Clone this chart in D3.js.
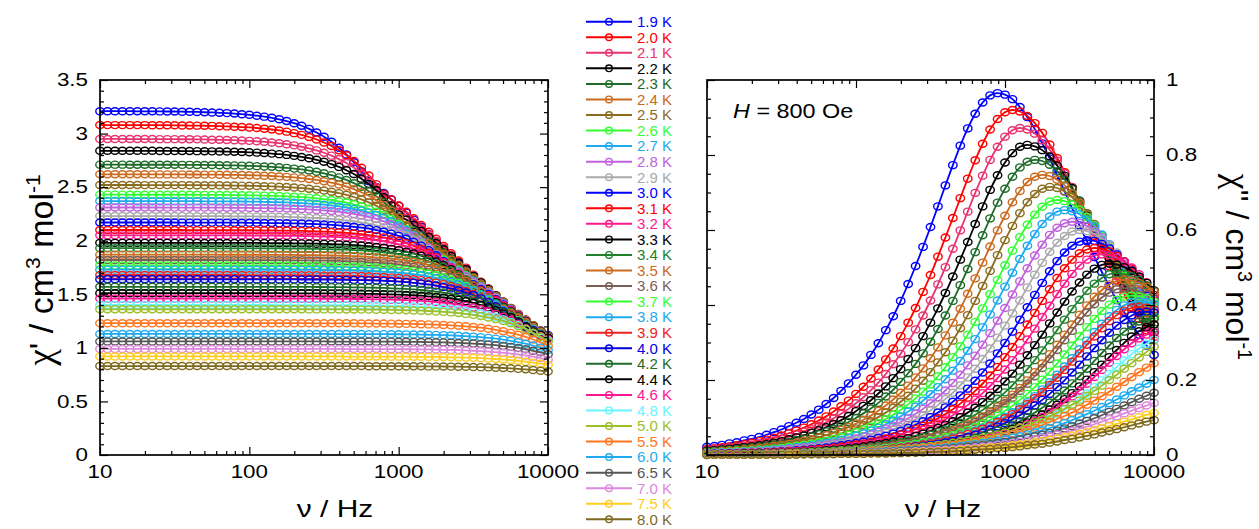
<!DOCTYPE html>
<html><head><meta charset="utf-8">
<script src="https://cdn.jsdelivr.net/npm/d3@7"></script>
<style>body{margin:0;background:#fff;}svg{display:block;}</style>
</head><body>
<svg id="chart" width="1259" height="529"></svg>
<script>
// ---------------- DATA ----------------
const temps = ["1.9 K","2.0 K","2.1 K","2.2 K","2.3 K","2.4 K","2.5 K","2.6 K","2.7 K","2.8 K","2.9 K","3.0 K","3.1 K","3.2 K","3.3 K","3.4 K","3.5 K","3.6 K","3.7 K","3.8 K","3.9 K","4.0 K","4.2 K","4.4 K","4.6 K","4.8 K","5.0 K","5.5 K","6.0 K","6.5 K","7.0 K","7.5 K","8.0 K"];
const colors = ["#0000ff","#ff0000","#e8336e","#000000","#1e6b2a","#cc6a1e","#8b6d1f","#33ff33","#1eaaee","#c062dc","#aaaaaa","#0000ff","#ff0000","#ff1a8c","#000000","#208030","#cc6a1e","#7a5f55","#33ff33","#1eaaee","#ee2020","#0000dd","#1e6b2a","#000000","#ff1493","#66f6ff","#9cbf2a","#ff7722","#1eaaee","#555555","#dd88dd","#ffcc22","#7d6a1e"];
const freq = [10,11.22,12.59,14.13,15.85,17.78,19.95,22.39,25.12,28.18,31.62,35.48,39.81,44.67,50.12,56.23,63.1,70.79,79.43,89.13,100,112.2,125.9,141.3,158.5,177.8,199.5,223.9,251.2,281.8,316.2,354.8,398.1,446.7,501.2,562.3,631,707.9,794.3,891.3,1000,1122,1259,1413,1585,1778,1995,2239,2512,2818,3162,3548,3981,4467,5012,5623,6310,7079,7943,8913,10000];
const freqMajor = [10,100,1000,10000];
const freqMinor = [20,30,40,50,60,70,80,90,200,300,400,500,600,700,800,900,2000,3000,4000,5000,6000,7000,8000,9000];
const freqLabels = ["10","100","1000","10000"];
const reMajor = [0,0.5,1,1.5,2,2.5,3,3.5];
const reMinor = [0.1,0.2,0.3,0.4,0.6,0.7,0.8,0.9,1.1,1.2,1.3,1.4,1.6,1.7,1.8,1.9,2.1,2.2,2.3,2.4,2.6,2.7,2.8,2.9,3.1,3.2,3.3,3.4];
const reLabels = ["0","0.5","1","1.5","2","2.5","3","3.5"];
const imMajor = [0,0.2,0.4,0.6,0.8,1];
const imMinor = [0.05,0.1,0.15,0.25,0.3,0.35,0.45,0.5,0.55,0.65,0.7,0.75,0.85,0.9,0.95];
const imLabels = ["0","0.2","0.4","0.6","0.8","1"];

// chi' (in-phase), one array per temperature
const re_19 = [3.209,3.209,3.209,3.209,3.209,3.208,3.208,3.208,3.207,3.206,3.206,3.204,3.203,3.202,3.199,3.197,3.194,3.191,3.187,3.181,3.175,3.167,3.158,3.147,3.133,3.117,3.097,3.073,3.044,3.010,2.971,2.923,2.868,2.805,2.732,2.649,2.556,2.502,2.446,2.387,2.326,2.262,2.197,2.130,2.062,1.994,1.925,1.857,1.790,1.724,1.659,1.595,1.533,1.472,1.414,1.359,1.306,1.255,1.207,1.162,1.120];
const re_20 = [3.080,3.079,3.079,3.079,3.079,3.079,3.079,3.078,3.078,3.078,3.077,3.076,3.075,3.074,3.073,3.072,3.069,3.067,3.064,3.061,3.057,3.052,3.045,3.038,3.029,3.018,3.004,2.988,2.968,2.945,2.917,2.884,2.844,2.798,2.744,2.681,2.609,2.528,2.437,2.384,2.328,2.270,2.210,2.147,2.083,2.018,1.951,1.884,1.816,1.749,1.683,1.618,1.554,1.491,1.430,1.371,1.314,1.259,1.207,1.157,1.110];
const re_21 = [2.950,2.950,2.950,2.950,2.949,2.949,2.949,2.949,2.948,2.948,2.948,2.947,2.947,2.946,2.945,2.943,2.942,2.940,2.938,2.935,2.932,2.928,2.923,2.917,2.910,2.901,2.890,2.877,2.862,2.843,2.821,2.794,2.762,2.725,2.680,2.628,2.568,2.500,2.422,2.334,2.284,2.231,2.175,2.118,2.058,1.997,1.934,1.870,1.805,1.740,1.677,1.614,1.551,1.490,1.430,1.371,1.315,1.260,1.208,1.158,1.110];
const re_22 = [2.839,2.839,2.839,2.839,2.839,2.839,2.839,2.839,2.838,2.838,2.838,2.837,2.837,2.836,2.835,2.834,2.833,2.832,2.830,2.828,2.825,2.822,2.818,2.813,2.808,2.801,2.792,2.782,2.770,2.755,2.737,2.715,2.689,2.658,2.622,2.579,2.529,2.471,2.405,2.330,2.246,2.197,2.146,2.092,2.036,1.979,1.920,1.859,1.797,1.735,1.672,1.611,1.550,1.490,1.431,1.373,1.316,1.262,1.209,1.158,1.110];
const re_23 = [2.710,2.710,2.710,2.710,2.709,2.709,2.709,2.709,2.709,2.709,2.709,2.708,2.708,2.707,2.707,2.706,2.705,2.704,2.703,2.701,2.699,2.696,2.693,2.690,2.685,2.680,2.673,2.665,2.655,2.643,2.629,2.612,2.591,2.567,2.537,2.503,2.462,2.415,2.359,2.296,2.225,2.145,2.098,2.050,1.998,1.946,1.891,1.834,1.777,1.718,1.659,1.599,1.541,1.483,1.426,1.369,1.314,1.260,1.208,1.158,1.110];
const re_24 = [2.620,2.620,2.620,2.620,2.620,2.620,2.620,2.619,2.619,2.619,2.619,2.619,2.618,2.618,2.617,2.617,2.616,2.615,2.614,2.613,2.611,2.609,2.607,2.604,2.600,2.596,2.591,2.584,2.576,2.567,2.555,2.542,2.525,2.505,2.481,2.452,2.419,2.379,2.333,2.279,2.218,2.148,2.070,2.025,1.977,1.928,1.876,1.823,1.768,1.712,1.655,1.597,1.539,1.483,1.426,1.370,1.315,1.262,1.210,1.159,1.110];
const re_25 = [2.520,2.520,2.520,2.520,2.520,2.520,2.519,2.519,2.519,2.519,2.519,2.519,2.518,2.518,2.518,2.517,2.517,2.516,2.515,2.514,2.513,2.511,2.509,2.507,2.504,2.501,2.496,2.491,2.485,2.477,2.468,2.457,2.444,2.428,2.408,2.385,2.358,2.326,2.287,2.243,2.191,2.132,2.064,1.989,1.945,1.900,1.852,1.802,1.751,1.698,1.644,1.589,1.533,1.477,1.422,1.368,1.314,1.261,1.209,1.159,1.110];
const re_26 = [2.430,2.430,2.430,2.430,2.429,2.429,2.429,2.429,2.429,2.429,2.429,2.429,2.429,2.429,2.428,2.428,2.427,2.427,2.426,2.425,2.424,2.423,2.421,2.419,2.417,2.414,2.411,2.407,2.402,2.396,2.388,2.380,2.368,2.356,2.340,2.321,2.298,2.271,2.240,2.202,2.159,2.108,2.050,1.985,1.911,1.869,1.824,1.777,1.729,1.678,1.627,1.574,1.520,1.466,1.411,1.357,1.304,1.252,1.200,1.149,1.100];
const re_27 = [2.370,2.370,2.370,2.370,2.370,2.369,2.369,2.369,2.369,2.369,2.369,2.369,2.369,2.369,2.368,2.368,2.368,2.367,2.367,2.366,2.365,2.364,2.363,2.361,2.359,2.357,2.354,2.351,2.347,2.342,2.336,2.329,2.320,2.309,2.296,2.281,2.262,2.239,2.213,2.181,2.144,2.101,2.051,1.994,1.928,1.855,1.813,1.769,1.722,1.674,1.624,1.573,1.521,1.468,1.414,1.359,1.306,1.254,1.201,1.150,1.100];
const re_28 = [2.310,2.310,2.310,2.310,2.310,2.310,2.310,2.310,2.310,2.309,2.309,2.309,2.309,2.309,2.309,2.309,2.308,2.308,2.307,2.307,2.306,2.305,2.304,2.303,2.302,2.300,2.298,2.295,2.292,2.287,2.283,2.277,2.269,2.260,2.250,2.237,2.221,2.203,2.181,2.154,2.123,2.086,2.043,1.994,1.937,1.872,1.800,1.758,1.714,1.668,1.620,1.571,1.520,1.468,1.415,1.361,1.308,1.255,1.203,1.151,1.100];
const re_29 = [2.23,2.23,2.23,2.23,2.23,2.23,2.23,2.23,2.23,2.23,2.23,2.23,2.229,2.229,2.229,2.229,2.229,2.229,2.228,2.228,2.227,2.226,2.226,2.225,2.224,2.222,2.220,2.218,2.215,2.212,2.208,2.203,2.198,2.190,2.182,2.171,2.159,2.144,2.126,2.104,2.078,2.048,2.012,1.970,1.922,1.866,1.803,1.733,1.692,1.649,1.604,1.558,1.509,1.460,1.409,1.358,1.305,1.253,1.202,1.151,1.100];
const re_30 = [2.17,2.17,2.17,2.17,2.17,2.17,2.17,2.17,2.17,2.17,2.17,2.169,2.169,2.169,2.169,2.169,2.169,2.169,2.168,2.168,2.167,2.167,2.166,2.165,2.164,2.163,2.162,2.160,2.158,2.155,2.152,2.148,2.143,2.137,2.130,2.122,2.112,2.099,2.084,2.066,2.045,2.019,1.989,1.954,1.912,1.864,1.809,1.747,1.677,1.636,1.594,1.549,1.503,1.455,1.406,1.356,1.305,1.253,1.201,1.150,1.100];
const re_31 = [2.1,2.1,2.1,2.1,2.1,2.1,2.1,2.1,2.1,2.1,2.1,2.1,2.099,2.099,2.099,2.099,2.099,2.099,2.098,2.098,2.098,2.097,2.097,2.096,2.095,2.095,2.093,2.092,2.090,2.088,2.085,2.082,2.078,2.074,2.068,2.061,2.053,2.043,2.031,2.016,1.998,1.977,1.952,1.923,1.888,1.847,1.800,1.746,1.685,1.616,1.577,1.535,1.491,1.446,1.399,1.351,1.302,1.252,1.201,1.150,1.100];
const re_32 = [2.05,2.05,2.05,2.05,2.05,2.05,2.05,2.05,2.05,2.05,2.05,2.05,2.05,2.049,2.049,2.049,2.049,2.049,2.049,2.049,2.048,2.048,2.048,2.047,2.046,2.046,2.045,2.044,2.042,2.040,2.038,2.036,2.033,2.029,2.024,2.018,2.011,2.003,1.993,1.981,1.966,1.949,1.927,1.902,1.873,1.838,1.797,1.750,1.696,1.635,1.566,1.527,1.485,1.441,1.396,1.349,1.301,1.252,1.202,1.151,1.100];
const re_33 = [1.98,1.98,1.98,1.98,1.98,1.98,1.98,1.98,1.98,1.98,1.98,1.98,1.98,1.98,1.979,1.979,1.979,1.979,1.979,1.979,1.979,1.979,1.978,1.978,1.977,1.977,1.976,1.975,1.974,1.972,1.971,1.968,1.966,1.963,1.959,1.955,1.949,1.942,1.934,1.924,1.912,1.898,1.881,1.860,1.835,1.807,1.772,1.733,1.687,1.634,1.574,1.507,1.468,1.427,1.384,1.340,1.294,1.247,1.199,1.150,1.100];
const re_34 = [1.93,1.93,1.93,1.93,1.93,1.93,1.93,1.93,1.93,1.93,1.93,1.93,1.93,1.93,1.93,1.929,1.929,1.929,1.929,1.929,1.929,1.929,1.928,1.928,1.928,1.927,1.926,1.926,1.925,1.924,1.922,1.920,1.918,1.916,1.913,1.909,1.904,1.899,1.892,1.884,1.874,1.862,1.848,1.831,1.810,1.785,1.757,1.722,1.683,1.637,1.584,1.524,1.457,1.418,1.377,1.335,1.290,1.244,1.197,1.149,1.100];
const re_35 = [1.87,1.87,1.87,1.87,1.87,1.87,1.87,1.87,1.87,1.87,1.87,1.87,1.87,1.87,1.87,1.87,1.869,1.869,1.869,1.869,1.869,1.869,1.869,1.868,1.868,1.867,1.867,1.866,1.866,1.865,1.864,1.862,1.860,1.859,1.856,1.853,1.849,1.845,1.839,1.833,1.825,1.815,1.803,1.789,1.772,1.752,1.727,1.699,1.665,1.626,1.581,1.529,1.470,1.403,1.365,1.325,1.283,1.239,1.194,1.148,1.100];
const re_36 = [1.82,1.82,1.82,1.82,1.82,1.82,1.82,1.82,1.82,1.82,1.82,1.82,1.82,1.82,1.82,1.82,1.819,1.819,1.819,1.819,1.819,1.819,1.819,1.819,1.818,1.818,1.817,1.817,1.816,1.815,1.814,1.813,1.811,1.809,1.807,1.804,1.800,1.796,1.791,1.785,1.777,1.768,1.757,1.743,1.727,1.708,1.685,1.658,1.626,1.589,1.546,1.496,1.440,1.378,1.341,1.303,1.263,1.222,1.179,1.135,1.090];
const re_37 = [1.77,1.77,1.77,1.77,1.77,1.77,1.77,1.77,1.77,1.77,1.77,1.77,1.77,1.77,1.77,1.77,1.77,1.769,1.769,1.769,1.769,1.769,1.769,1.769,1.768,1.768,1.768,1.767,1.767,1.766,1.765,1.764,1.763,1.761,1.759,1.757,1.754,1.750,1.746,1.741,1.735,1.727,1.718,1.707,1.694,1.678,1.659,1.636,1.609,1.577,1.540,1.498,1.449,1.393,1.331,1.295,1.257,1.217,1.176,1.134,1.090];
const re_38 = [1.73,1.73,1.73,1.73,1.73,1.73,1.73,1.73,1.73,1.73,1.73,1.73,1.73,1.73,1.73,1.73,1.73,1.73,1.729,1.729,1.729,1.729,1.729,1.729,1.729,1.728,1.728,1.728,1.727,1.727,1.726,1.725,1.724,1.723,1.721,1.719,1.717,1.714,1.710,1.706,1.701,1.695,1.687,1.678,1.667,1.653,1.637,1.618,1.595,1.568,1.536,1.499,1.456,1.407,1.351,1.288,1.252,1.214,1.174,1.133,1.090];
const re_39 = [1.68,1.68,1.68,1.68,1.68,1.68,1.68,1.68,1.68,1.68,1.68,1.68,1.68,1.68,1.68,1.68,1.68,1.68,1.68,1.68,1.679,1.679,1.679,1.679,1.679,1.679,1.678,1.678,1.678,1.677,1.676,1.676,1.675,1.673,1.672,1.670,1.668,1.665,1.662,1.658,1.653,1.648,1.641,1.632,1.622,1.609,1.595,1.577,1.556,1.531,1.502,1.467,1.428,1.382,1.331,1.273,1.239,1.204,1.168,1.130,1.090];
const re_40 = [1.64,1.64,1.64,1.64,1.64,1.64,1.64,1.64,1.64,1.64,1.64,1.64,1.64,1.64,1.64,1.64,1.64,1.64,1.64,1.639,1.639,1.639,1.639,1.639,1.639,1.639,1.639,1.638,1.638,1.638,1.637,1.636,1.635,1.634,1.633,1.632,1.630,1.628,1.625,1.622,1.618,1.613,1.607,1.600,1.592,1.582,1.569,1.555,1.537,1.516,1.491,1.462,1.427,1.388,1.342,1.291,1.233,1.200,1.165,1.128,1.090];
const re_42 = [1.57,1.57,1.57,1.57,1.57,1.57,1.57,1.57,1.57,1.57,1.57,1.57,1.57,1.57,1.57,1.57,1.57,1.57,1.57,1.57,1.57,1.57,1.57,1.57,1.569,1.569,1.569,1.569,1.569,1.568,1.568,1.567,1.567,1.566,1.565,1.564,1.562,1.561,1.559,1.556,1.553,1.550,1.545,1.540,1.533,1.525,1.516,1.504,1.490,1.473,1.454,1.430,1.403,1.371,1.334,1.291,1.243,1.189,1.157,1.124,1.090];
const re_44 = [1.51,1.51,1.51,1.51,1.51,1.51,1.51,1.51,1.51,1.51,1.51,1.51,1.51,1.51,1.51,1.51,1.51,1.51,1.51,1.51,1.51,1.51,1.51,1.51,1.51,1.509,1.509,1.509,1.509,1.509,1.508,1.508,1.507,1.507,1.506,1.505,1.504,1.503,1.501,1.499,1.497,1.494,1.491,1.487,1.481,1.475,1.468,1.459,1.448,1.435,1.419,1.400,1.378,1.352,1.322,1.287,1.247,1.202,1.151,1.121,1.090];
const re_46 = [1.46,1.46,1.46,1.46,1.46,1.46,1.46,1.46,1.46,1.46,1.46,1.46,1.46,1.46,1.46,1.46,1.46,1.46,1.46,1.46,1.46,1.46,1.46,1.459,1.459,1.459,1.459,1.459,1.459,1.459,1.458,1.458,1.457,1.457,1.456,1.456,1.454,1.453,1.452,1.450,1.448,1.445,1.442,1.439,1.434,1.428,1.421,1.413,1.403,1.392,1.377,1.361,1.341,1.317,1.290,1.258,1.222,1.181,1.135,1.108,1.080];
const re_48 = [1.4,1.4,1.4,1.4,1.4,1.4,1.4,1.4,1.4,1.4,1.4,1.4,1.4,1.4,1.4,1.4,1.4,1.4,1.4,1.4,1.4,1.4,1.4,1.4,1.399,1.399,1.399,1.399,1.399,1.399,1.399,1.398,1.398,1.398,1.397,1.397,1.396,1.395,1.394,1.392,1.391,1.389,1.386,1.384,1.380,1.375,1.370,1.364,1.356,1.347,1.336,1.323,1.307,1.288,1.266,1.241,1.211,1.177,1.138,1.095,1.070];
const re_50 = [1.36,1.36,1.36,1.36,1.36,1.36,1.36,1.36,1.36,1.36,1.36,1.36,1.36,1.36,1.36,1.36,1.36,1.36,1.36,1.36,1.36,1.36,1.36,1.36,1.36,1.36,1.36,1.36,1.359,1.359,1.359,1.359,1.359,1.358,1.358,1.357,1.357,1.356,1.355,1.354,1.353,1.351,1.349,1.347,1.344,1.340,1.336,1.331,1.325,1.317,1.308,1.297,1.284,1.269,1.250,1.229,1.203,1.174,1.141,1.103,1.060];
const re_55 = [1.23,1.23,1.23,1.23,1.23,1.23,1.23,1.23,1.23,1.23,1.23,1.23,1.23,1.23,1.23,1.23,1.23,1.23,1.23,1.23,1.23,1.23,1.23,1.23,1.23,1.23,1.23,1.23,1.23,1.229,1.229,1.229,1.229,1.229,1.229,1.228,1.228,1.227,1.227,1.226,1.225,1.224,1.223,1.221,1.219,1.217,1.214,1.210,1.206,1.201,1.195,1.188,1.179,1.168,1.155,1.140,1.123,1.102,1.078,1.051,1.020];
const re_60 = [1.13,1.13,1.13,1.13,1.13,1.13,1.13,1.13,1.13,1.13,1.13,1.13,1.13,1.13,1.13,1.13,1.13,1.13,1.13,1.13,1.13,1.13,1.13,1.13,1.13,1.13,1.13,1.13,1.13,1.13,1.13,1.129,1.129,1.129,1.129,1.129,1.128,1.128,1.128,1.127,1.127,1.126,1.125,1.124,1.122,1.121,1.119,1.116,1.113,1.109,1.105,1.100,1.093,1.086,1.077,1.066,1.053,1.039,1.022,1.002,0.980];
const re_65 = [1.06,1.06,1.06,1.06,1.06,1.06,1.06,1.06,1.06,1.06,1.06,1.06,1.06,1.06,1.06,1.06,1.06,1.06,1.06,1.06,1.06,1.06,1.06,1.06,1.06,1.06,1.06,1.06,1.06,1.06,1.06,1.059,1.059,1.059,1.059,1.059,1.059,1.058,1.058,1.058,1.057,1.057,1.056,1.055,1.054,1.052,1.051,1.049,1.046,1.043,1.040,1.036,1.031,1.025,1.017,1.009,0.999,0.987,0.973,0.958,0.940];
const re_70 = [0.99,0.99,0.99,0.99,0.99,0.99,0.99,0.99,0.99,0.99,0.99,0.99,0.99,0.99,0.99,0.99,0.99,0.99,0.99,0.99,0.99,0.99,0.99,0.99,0.99,0.99,0.99,0.99,0.99,0.99,0.99,0.99,0.99,0.989,0.989,0.989,0.989,0.989,0.988,0.988,0.988,0.987,0.987,0.986,0.985,0.984,0.982,0.981,0.979,0.976,0.973,0.970,0.966,0.960,0.954,0.947,0.939,0.929,0.918,0.905,0.890];
const re_75 = [0.92,0.92,0.92,0.92,0.92,0.92,0.92,0.92,0.92,0.92,0.92,0.92,0.92,0.92,0.92,0.92,0.92,0.92,0.92,0.92,0.92,0.92,0.92,0.92,0.92,0.92,0.92,0.92,0.92,0.92,0.92,0.92,0.92,0.919,0.919,0.919,0.919,0.919,0.919,0.918,0.918,0.918,0.917,0.916,0.916,0.915,0.914,0.912,0.911,0.909,0.907,0.904,0.900,0.896,0.891,0.886,0.879,0.871,0.862,0.852,0.840];
const re_80 = [0.83,0.83,0.83,0.83,0.83,0.83,0.83,0.83,0.83,0.83,0.83,0.83,0.83,0.83,0.83,0.83,0.83,0.83,0.83,0.83,0.83,0.83,0.83,0.83,0.83,0.83,0.83,0.83,0.83,0.83,0.83,0.83,0.83,0.83,0.83,0.83,0.829,0.829,0.829,0.829,0.829,0.829,0.828,0.828,0.827,0.827,0.826,0.825,0.824,0.823,0.822,0.820,0.818,0.815,0.812,0.809,0.804,0.800,0.794,0.787,0.780];

// chi'' (out-of-phase), one array per temperature
const im_19 = [0.022,0.024,0.027,0.031,0.034,0.039,0.043,0.048,0.054,0.061,0.068,0.077,0.086,0.096,0.108,0.121,0.136,0.152,0.171,0.191,0.214,0.239,0.267,0.298,0.333,0.370,0.411,0.456,0.504,0.555,0.608,0.663,0.719,0.773,0.825,0.871,0.910,0.940,0.959,0.965,0.961,0.949,0.928,0.901,0.869,0.831,0.791,0.746,0.703,0.658,0.612,0.570,0.528,0.488,0.450,0.413,0.381,0.348,0.321,0.292,0.267];
const im_20 = [0.016,0.018,0.021,0.023,0.026,0.029,0.033,0.037,0.041,0.046,0.052,0.058,0.065,0.073,0.082,0.092,0.103,0.116,0.130,0.145,0.163,0.182,0.204,0.228,0.255,0.284,0.317,0.353,0.392,0.435,0.480,0.529,0.580,0.632,0.685,0.737,0.786,0.830,0.868,0.896,0.914,0.920,0.916,0.904,0.885,0.859,0.828,0.792,0.754,0.711,0.670,0.627,0.584,0.544,0.503,0.466,0.429,0.394,0.363,0.332,0.306];
const im_21 = [0.014,0.016,0.017,0.020,0.022,0.025,0.028,0.031,0.035,0.039,0.044,0.049,0.055,0.062,0.069,0.078,0.087,0.098,0.110,0.123,0.138,0.154,0.173,0.193,0.216,0.242,0.270,0.301,0.335,0.372,0.412,0.455,0.501,0.550,0.599,0.649,0.699,0.745,0.787,0.822,0.849,0.866,0.872,0.868,0.857,0.839,0.814,0.785,0.751,0.715,0.674,0.635,0.595,0.553,0.515,0.477,0.441,0.406,0.373,0.344,0.315];
const im_22 = [0.012,0.013,0.015,0.017,0.019,0.021,0.023,0.026,0.029,0.033,0.037,0.042,0.047,0.052,0.059,0.066,0.074,0.083,0.093,0.104,0.117,0.131,0.146,0.164,0.183,0.205,0.229,0.256,0.285,0.317,0.353,0.391,0.432,0.476,0.521,0.568,0.616,0.663,0.707,0.746,0.780,0.805,0.822,0.827,0.823,0.813,0.796,0.772,0.745,0.712,0.678,0.639,0.602,0.564,0.525,0.489,0.452,0.418,0.385,0.354,0.327];
const im_23 = [0.010,0.011,0.013,0.014,0.016,0.018,0.020,0.022,0.025,0.028,0.031,0.035,0.040,0.044,0.050,0.056,0.063,0.070,0.079,0.088,0.099,0.111,0.124,0.139,0.156,0.174,0.195,0.218,0.243,0.271,0.302,0.336,0.372,0.411,0.453,0.496,0.541,0.586,0.631,0.673,0.710,0.742,0.767,0.782,0.787,0.784,0.774,0.757,0.735,0.709,0.678,0.645,0.608,0.573,0.537,0.499,0.465,0.430,0.398,0.367,0.337];
const im_24 = [0.008,0.009,0.011,0.012,0.013,0.015,0.017,0.019,0.021,0.024,0.027,0.030,0.033,0.038,0.042,0.047,0.053,0.059,0.067,0.075,0.084,0.094,0.105,0.118,0.132,0.148,0.166,0.185,0.207,0.231,0.258,0.287,0.319,0.353,0.390,0.430,0.471,0.513,0.556,0.599,0.638,0.674,0.704,0.728,0.742,0.747,0.744,0.734,0.719,0.698,0.673,0.643,0.612,0.577,0.544,0.509,0.474,0.441,0.409,0.378,0.348];
const im_25 = [0.007,0.008,0.009,0.010,0.011,0.013,0.014,0.016,0.018,0.020,0.023,0.025,0.029,0.032,0.036,0.040,0.045,0.051,0.057,0.064,0.071,0.080,0.090,0.101,0.113,0.126,0.142,0.158,0.177,0.198,0.221,0.247,0.274,0.305,0.338,0.373,0.411,0.451,0.491,0.533,0.573,0.611,0.645,0.674,0.696,0.710,0.715,0.712,0.703,0.688,0.668,0.644,0.616,0.586,0.553,0.521,0.488,0.454,0.423,0.391,0.362];
const im_26 = [0.006,0.007,0.008,0.009,0.010,0.011,0.012,0.014,0.015,0.017,0.019,0.022,0.024,0.027,0.030,0.034,0.038,0.043,0.048,0.054,0.061,0.068,0.076,0.085,0.096,0.107,0.120,0.135,0.151,0.169,0.188,0.210,0.234,0.261,0.290,0.321,0.355,0.391,0.429,0.467,0.506,0.545,0.581,0.614,0.641,0.662,0.676,0.680,0.677,0.668,0.654,0.635,0.612,0.585,0.557,0.526,0.495,0.464,0.431,0.402,0.372];
const im_27 = [0.005,0.006,0.007,0.007,0.008,0.009,0.010,0.012,0.013,0.015,0.016,0.018,0.021,0.023,0.026,0.029,0.033,0.037,0.041,0.046,0.052,0.058,0.065,0.073,0.082,0.092,0.103,0.116,0.129,0.145,0.162,0.181,0.202,0.225,0.251,0.278,0.309,0.341,0.375,0.412,0.449,0.486,0.523,0.558,0.589,0.616,0.636,0.649,0.653,0.650,0.642,0.628,0.610,0.588,0.562,0.535,0.505,0.476,0.445,0.414,0.386];
const im_28 = [0.004,0.005,0.006,0.006,0.007,0.008,0.009,0.010,0.011,0.012,0.014,0.016,0.018,0.020,0.022,0.025,0.028,0.031,0.035,0.039,0.044,0.049,0.055,0.062,0.070,0.078,0.088,0.098,0.110,0.123,0.138,0.154,0.172,0.192,0.214,0.239,0.265,0.294,0.325,0.358,0.392,0.428,0.463,0.498,0.532,0.561,0.587,0.606,0.618,0.622,0.619,0.611,0.598,0.581,0.560,0.536,0.510,0.481,0.453,0.424,0.395];
const im_29 = [0.004,0.004,0.005,0.005,0.006,0.007,0.008,0.009,0.010,0.011,0.012,0.013,0.015,0.017,0.019,0.021,0.024,0.027,0.030,0.034,0.038,0.043,0.048,0.054,0.060,0.067,0.075,0.085,0.095,0.106,0.119,0.133,0.149,0.166,0.186,0.207,0.230,0.256,0.284,0.313,0.345,0.378,0.412,0.447,0.481,0.513,0.542,0.566,0.584,0.596,0.600,0.597,0.590,0.577,0.560,0.540,0.517,0.492,0.464,0.437,0.409];
const im_30 = [0.003,0.004,0.004,0.005,0.005,0.006,0.006,0.007,0.008,0.009,0.010,0.011,0.013,0.014,0.016,0.018,0.020,0.023,0.026,0.029,0.032,0.036,0.041,0.046,0.051,0.057,0.064,0.072,0.081,0.090,0.101,0.113,0.127,0.142,0.159,0.177,0.198,0.220,0.244,0.271,0.299,0.329,0.361,0.394,0.427,0.459,0.490,0.517,0.540,0.558,0.569,0.573,0.571,0.563,0.551,0.535,0.516,0.493,0.470,0.443,0.417];
const im_31 = [0.003,0.003,0.003,0.004,0.004,0.005,0.006,0.006,0.007,0.008,0.009,0.010,0.011,0.012,0.014,0.016,0.017,0.020,0.022,0.025,0.028,0.031,0.035,0.039,0.044,0.049,0.055,0.062,0.069,0.078,0.087,0.098,0.109,0.122,0.137,0.153,0.171,0.190,0.212,0.235,0.261,0.288,0.317,0.348,0.379,0.411,0.442,0.472,0.498,0.521,0.538,0.548,0.552,0.550,0.543,0.531,0.516,0.497,0.475,0.452,0.427];
const im_32 = [0.002,0.003,0.003,0.003,0.004,0.004,0.005,0.005,0.006,0.007,0.008,0.009,0.010,0.011,0.012,0.013,0.015,0.017,0.019,0.021,0.024,0.027,0.030,0.034,0.038,0.043,0.048,0.053,0.060,0.067,0.075,0.084,0.095,0.106,0.119,0.133,0.148,0.165,0.184,0.205,0.228,0.253,0.279,0.308,0.337,0.368,0.398,0.429,0.457,0.483,0.505,0.521,0.532,0.535,0.533,0.526,0.515,0.500,0.482,0.461,0.438];
const im_33 = [0.002,0.002,0.003,0.003,0.003,0.004,0.004,0.005,0.005,0.006,0.006,0.007,0.008,0.009,0.010,0.011,0.013,0.014,0.016,0.018,0.020,0.023,0.026,0.029,0.032,0.036,0.041,0.045,0.051,0.057,0.064,0.072,0.081,0.090,0.101,0.113,0.126,0.141,0.158,0.176,0.196,0.217,0.241,0.266,0.293,0.321,0.351,0.380,0.409,0.436,0.460,0.481,0.497,0.507,0.510,0.508,0.501,0.491,0.476,0.459,0.439];
const im_34 = [0.002,0.002,0.002,0.002,0.003,0.003,0.003,0.004,0.004,0.005,0.005,0.006,0.007,0.008,0.009,0.010,0.011,0.012,0.014,0.015,0.017,0.019,0.022,0.024,0.027,0.031,0.034,0.039,0.043,0.048,0.054,0.061,0.068,0.077,0.086,0.096,0.107,0.120,0.134,0.150,0.167,0.186,0.207,0.229,0.253,0.279,0.306,0.333,0.361,0.389,0.414,0.438,0.457,0.472,0.482,0.485,0.483,0.477,0.467,0.453,0.437];
const im_35 = [0.001,0.002,0.002,0.002,0.002,0.003,0.003,0.003,0.004,0.004,0.005,0.005,0.006,0.007,0.007,0.008,0.009,0.010,0.012,0.013,0.015,0.017,0.019,0.021,0.023,0.026,0.030,0.033,0.037,0.042,0.047,0.052,0.059,0.066,0.074,0.083,0.092,0.103,0.116,0.129,0.144,0.161,0.179,0.199,0.221,0.244,0.269,0.294,0.321,0.348,0.374,0.399,0.422,0.440,0.455,0.464,0.467,0.465,0.459,0.449,0.436];
const im_36 = [0.001,0.002,0.002,0.002,0.002,0.002,0.003,0.003,0.004,0.004,0.004,0.005,0.006,0.006,0.007,0.008,0.009,0.010,0.011,0.013,0.014,0.016,0.018,0.020,0.022,0.025,0.028,0.032,0.035,0.040,0.044,0.050,0.056,0.063,0.070,0.079,0.088,0.099,0.110,0.123,0.138,0.153,0.171,0.190,0.210,0.232,0.256,0.280,0.306,0.331,0.357,0.380,0.402,0.420,0.433,0.442,0.445,0.443,0.437,0.428,0.416];
const im_37 = [0.001,0.001,0.002,0.002,0.002,0.002,0.002,0.003,0.003,0.003,0.004,0.004,0.005,0.005,0.006,0.007,0.008,0.009,0.010,0.011,0.012,0.013,0.015,0.017,0.019,0.021,0.024,0.027,0.030,0.034,0.038,0.042,0.048,0.053,0.060,0.067,0.075,0.084,0.094,0.105,0.118,0.131,0.147,0.163,0.181,0.201,0.222,0.244,0.268,0.292,0.317,0.341,0.363,0.384,0.401,0.414,0.422,0.425,0.423,0.418,0.409];
const im_38 = [0.001,0.001,0.001,0.001,0.002,0.002,0.002,0.002,0.003,0.003,0.003,0.004,0.004,0.005,0.005,0.006,0.007,0.007,0.008,0.009,0.010,0.012,0.013,0.015,0.016,0.018,0.021,0.023,0.026,0.029,0.033,0.037,0.041,0.046,0.052,0.058,0.065,0.073,0.081,0.091,0.102,0.114,0.127,0.141,0.157,0.175,0.194,0.214,0.236,0.258,0.282,0.305,0.328,0.350,0.370,0.387,0.399,0.407,0.410,0.408,0.403];
const im_39 = [0.001,0.001,0.001,0.001,0.002,0.002,0.002,0.002,0.002,0.003,0.003,0.004,0.004,0.004,0.005,0.006,0.006,0.007,0.008,0.009,0.010,0.011,0.013,0.014,0.016,0.018,0.020,0.022,0.025,0.028,0.031,0.035,0.039,0.044,0.050,0.056,0.062,0.070,0.078,0.088,0.098,0.109,0.122,0.136,0.152,0.168,0.187,0.206,0.227,0.249,0.271,0.294,0.316,0.338,0.357,0.373,0.385,0.392,0.395,0.393,0.388];
const im_40 = [0.001,0.001,0.001,0.001,0.001,0.002,0.002,0.002,0.002,0.002,0.003,0.003,0.003,0.004,0.004,0.005,0.005,0.006,0.007,0.008,0.009,0.010,0.011,0.012,0.014,0.015,0.017,0.019,0.022,0.024,0.027,0.030,0.034,0.038,0.043,0.048,0.054,0.060,0.068,0.076,0.085,0.095,0.106,0.118,0.132,0.147,0.163,0.181,0.199,0.220,0.241,0.263,0.285,0.306,0.326,0.345,0.360,0.372,0.380,0.382,0.380];
const im_42 = [0.001,0.001,0.001,0.001,0.001,0.001,0.001,0.002,0.002,0.002,0.002,0.003,0.003,0.003,0.004,0.004,0.005,0.005,0.006,0.006,0.007,0.008,0.009,0.010,0.012,0.013,0.015,0.016,0.018,0.021,0.023,0.026,0.029,0.033,0.036,0.041,0.046,0.051,0.058,0.065,0.072,0.081,0.090,0.101,0.113,0.126,0.140,0.156,0.172,0.191,0.210,0.230,0.251,0.272,0.292,0.312,0.329,0.344,0.356,0.363,0.365];
const im_44 = [0.001,0.001,0.001,0.001,0.001,0.001,0.001,0.001,0.002,0.002,0.002,0.002,0.002,0.003,0.003,0.004,0.004,0.004,0.005,0.006,0.006,0.007,0.008,0.009,0.010,0.011,0.012,0.014,0.016,0.018,0.020,0.022,0.025,0.028,0.031,0.035,0.039,0.044,0.049,0.055,0.062,0.069,0.078,0.087,0.097,0.108,0.121,0.134,0.149,0.165,0.183,0.201,0.221,0.241,0.261,0.280,0.299,0.316,0.330,0.341,0.348];
const im_46 = [0.001,0.001,0.001,0.001,0.001,0.001,0.001,0.001,0.001,0.002,0.002,0.002,0.002,0.003,0.003,0.003,0.004,0.004,0.005,0.005,0.006,0.007,0.007,0.008,0.009,0.010,0.012,0.013,0.015,0.017,0.019,0.021,0.023,0.026,0.029,0.033,0.037,0.041,0.046,0.052,0.058,0.065,0.073,0.082,0.091,0.102,0.114,0.127,0.141,0.156,0.172,0.190,0.208,0.227,0.246,0.264,0.282,0.298,0.311,0.321,0.328];
const im_48 = [0.001,0.001,0.001,0.001,0.001,0.001,0.001,0.001,0.001,0.001,0.002,0.002,0.002,0.002,0.003,0.003,0.003,0.004,0.004,0.004,0.005,0.006,0.006,0.007,0.008,0.009,0.010,0.011,0.013,0.014,0.016,0.018,0.020,0.022,0.025,0.028,0.031,0.035,0.040,0.044,0.050,0.056,0.062,0.070,0.078,0.087,0.097,0.109,0.121,0.134,0.149,0.164,0.181,0.199,0.216,0.235,0.252,0.269,0.284,0.297,0.307];
const im_50 = [0.002,0.002,0.002,0.002,0.002,0.002,0.003,0.003,0.003,0.003,0.004,0.004,0.005,0.005,0.006,0.006,0.007,0.007,0.008,0.009,0.010,0.011,0.012,0.013,0.014,0.015,0.017,0.018,0.020,0.022,0.024,0.027,0.029,0.032,0.035,0.038,0.042,0.046,0.050,0.055,0.060,0.066,0.072,0.079,0.087,0.095,0.103,0.113,0.123,0.134,0.145,0.158,0.171,0.185,0.200,0.214,0.230,0.245,0.260,0.275,0.289];
const im_55 = [0.001,0.001,0.002,0.002,0.002,0.002,0.002,0.002,0.003,0.003,0.003,0.004,0.004,0.004,0.005,0.005,0.006,0.006,0.007,0.007,0.008,0.009,0.010,0.011,0.012,0.013,0.014,0.016,0.017,0.019,0.021,0.023,0.025,0.027,0.030,0.033,0.036,0.039,0.043,0.047,0.051,0.056,0.061,0.067,0.073,0.080,0.088,0.096,0.104,0.113,0.123,0.134,0.145,0.157,0.169,0.182,0.195,0.208,0.221,0.233,0.245];
const im_60 = [0.001,0.001,0.001,0.001,0.002,0.002,0.002,0.002,0.002,0.002,0.003,0.003,0.003,0.004,0.004,0.004,0.005,0.005,0.006,0.006,0.007,0.007,0.008,0.009,0.010,0.011,0.012,0.013,0.014,0.015,0.017,0.018,0.020,0.022,0.024,0.027,0.029,0.032,0.035,0.038,0.042,0.046,0.050,0.055,0.060,0.066,0.072,0.078,0.085,0.093,0.101,0.109,0.118,0.128,0.138,0.148,0.159,0.170,0.180,0.190,0.200];
const im_65 = [0.001,0.001,0.001,0.001,0.001,0.001,0.002,0.002,0.002,0.002,0.002,0.002,0.003,0.003,0.003,0.004,0.004,0.004,0.005,0.005,0.006,0.006,0.007,0.007,0.008,0.009,0.010,0.011,0.012,0.013,0.014,0.015,0.017,0.018,0.020,0.022,0.024,0.026,0.029,0.032,0.035,0.038,0.042,0.046,0.050,0.054,0.059,0.065,0.071,0.077,0.084,0.091,0.098,0.106,0.115,0.123,0.132,0.141,0.150,0.158,0.166];
const im_70 = [0.001,0.001,0.001,0.001,0.001,0.001,0.001,0.001,0.002,0.002,0.002,0.002,0.002,0.002,0.003,0.003,0.003,0.004,0.004,0.004,0.005,0.005,0.006,0.006,0.007,0.007,0.008,0.009,0.010,0.011,0.012,0.013,0.014,0.015,0.017,0.018,0.020,0.022,0.024,0.027,0.029,0.032,0.035,0.038,0.042,0.046,0.050,0.054,0.059,0.064,0.070,0.076,0.082,0.089,0.096,0.103,0.111,0.118,0.125,0.132,0.139];
const im_75 = [0.001,0.001,0.001,0.001,0.001,0.001,0.001,0.001,0.001,0.001,0.001,0.002,0.002,0.002,0.002,0.002,0.003,0.003,0.003,0.003,0.004,0.004,0.005,0.005,0.005,0.006,0.007,0.007,0.008,0.009,0.009,0.010,0.011,0.012,0.014,0.015,0.016,0.018,0.020,0.021,0.023,0.026,0.028,0.031,0.034,0.037,0.040,0.044,0.048,0.052,0.056,0.061,0.066,0.072,0.077,0.083,0.089,0.095,0.101,0.107,0.112];
const im_80 = [0.000,0.001,0.001,0.001,0.001,0.001,0.001,0.001,0.001,0.001,0.001,0.001,0.001,0.002,0.002,0.002,0.002,0.002,0.003,0.003,0.003,0.003,0.004,0.004,0.004,0.005,0.005,0.006,0.006,0.007,0.008,0.009,0.009,0.010,0.011,0.012,0.014,0.015,0.016,0.018,0.019,0.021,0.023,0.026,0.028,0.030,0.033,0.036,0.040,0.043,0.047,0.051,0.055,0.060,0.064,0.069,0.074,0.079,0.084,0.089,0.093];

const reSeries = [re_19,re_20,re_21,re_22,re_23,re_24,re_25,re_26,re_27,re_28,re_29,re_30,re_31,re_32,re_33,re_34,re_35,re_36,re_37,re_38,re_39,re_40,re_42,re_44,re_46,re_48,re_50,re_55,re_60,re_65,re_70,re_75,re_80];
const imSeries = [im_19,im_20,im_21,im_22,im_23,im_24,im_25,im_26,im_27,im_28,im_29,im_30,im_31,im_32,im_33,im_34,im_35,im_36,im_37,im_38,im_39,im_40,im_42,im_44,im_46,im_48,im_50,im_55,im_60,im_65,im_70,im_75,im_80];

// ---------------- DRAWING ----------------
const FONT = "'Liberation Sans', Arial, Helvetica, sans-serif";
const svg = d3.select("#chart");
const xL = d3.scaleLog().domain([10,10000]).range([100,548]);
const yL = d3.scaleLinear().domain([0,3.5]).range([455,80]);
const xR = d3.scaleLog().domain([10,10000]).range([707,1154]);
const yR = d3.scaleLinear().domain([0,1]).range([455,80]);

function drawSeries(x, y, seriesList) {
  const g = svg.append("g");
  seriesList.forEach((vals, k) => {
    const col = colors[k];
    const pts = vals.slice(0, freq.length).map((v,i) => [freq[i], v]);
    const line = d3.line().x(d=>x(d[0])).y(d=>y(d[1])).curve(d3.curveMonotoneX);
    g.append("path").datum(pts).attr("d", line)
      .attr("fill","none").attr("stroke",col).attr("stroke-width",1.8);
    g.selectAll(null).data(pts).enter().append("ellipse")
      .attr("cx",d=>x(d[0])).attr("cy",d=>y(d[1]))
      .attr("rx",4.2).attr("ry",3.5)
      .attr("fill","none").attr("stroke",col).attr("stroke-width",1.4);
  });
}
drawSeries(xL, yL, reSeries);
drawSeries(xR, yR, imSeries);

function frame(x, y, yMajor, yMinor) {
  const g = svg.append("g");
  const [xa,xb] = x.range(), [ya,yb] = y.range();
  const add = (axis, tr, vals, size) => g.append("g").attr("transform", tr)
      .call(axis.tickValues(vals).tickSize(size).tickFormat(""))
      .call(s => s.select(".domain").remove());
  add(d3.axisBottom(x), `translate(0,${ya})`, freqMajor, -8);
  add(d3.axisBottom(x), `translate(0,${ya})`, freqMinor, -4);
  add(d3.axisTop(x), `translate(0,${yb})`, freqMajor, -8);
  add(d3.axisTop(x), `translate(0,${yb})`, freqMinor, -4);
  add(d3.axisLeft(y), `translate(${xa},0)`, yMajor, -8);
  add(d3.axisLeft(y), `translate(${xa},0)`, yMinor, -4);
  add(d3.axisRight(y), `translate(${xb},0)`, yMajor, -8);
  add(d3.axisRight(y), `translate(${xb},0)`, yMinor, -4);
  g.selectAll(".tick line").attr("stroke","#000").attr("stroke-width",1.2);
  g.selectAll(".tick text").remove();
  g.append("rect").attr("x",xa).attr("y",yb).attr("width",xb-xa).attr("height",ya-yb)
    .attr("fill","none").attr("stroke","#000").attr("stroke-width",1.7);
}
frame(xL, yL, reMajor, reMinor);
frame(xR, yR, imMajor, imMinor);

function label(x, y, str, size, anchor, sx) {
  return svg.append("text").attr("transform", `translate(${x},${y}) scale(${sx},1)`)
    .attr("text-anchor", anchor).attr("font-family", FONT).attr("font-size", size)
    .attr("fill","#000").text(str);
}
const TS = 17.5, TSX = 1.28;
reMajor.forEach((v,i) => label(88, yL(v)+6.3, reLabels[i], TS, "end", TSX));
imMajor.forEach((v,i) => label(1166, yR(v)+6.3, imLabels[i], TS, "start", TSX));
freqMajor.forEach((v,i) => { label(xL(v), 478, freqLabels[i], TS, "middle", TSX); label(xR(v), 478, freqLabels[i], TS, "middle", TSX); });

// x titles
label(335, 517, "\u03bd / Hz", 23, "middle", 1.3);
label(943, 517, "\u03bd / Hz", 23, "middle", 1.3);

// y titles
function yTitle(x, y, rot, primes, fs) {
  const t = svg.append("text").attr("transform", `translate(${x},${y}) rotate(${rot})`)
    .attr("text-anchor","middle").attr("font-family", FONT).attr("font-size", fs).attr("fill","#000");
  t.append("tspan").attr("font-family","'Liberation Serif', 'DejaVu Serif', serif").attr("font-size", fs*1.1).text("\u03c7");
  t.append("tspan").text(primes + " / cm");
  t.append("tspan").attr("font-size", fs*0.62).attr("dy", -fs*0.38).text("3");
  t.append("tspan").attr("dy", fs*0.38).text(" mol");
  t.append("tspan").attr("font-size", fs*0.62).attr("dy", -fs*0.38).text("-1");
}
yTitle(53, 270, -90, "'", 34);
yTitle(1226, 267, 90, "''", 32);

// field annotation
const ht = svg.append("text").attr("transform","translate(733,118) scale(1.17,1)")
  .attr("font-family", FONT).attr("font-size", 20).attr("fill","#000");
ht.append("tspan").attr("font-style","italic").text("H");
ht.append("tspan").text(" = 800 Oe");

// legend
const lg = svg.append("g");
temps.forEach((t, i) => {
  const yy = 21.7 + 15.55 * i;
  lg.append("line").attr("x1",586).attr("x2",632).attr("y1",yy).attr("y2",yy)
    .attr("stroke",colors[i]).attr("stroke-width",2);
  lg.append("circle").attr("cx",609).attr("cy",yy).attr("r",3.3)
    .attr("fill","none").attr("stroke",colors[i]).attr("stroke-width",1.4);
  lg.append("text").attr("x",637).attr("y",yy+5.3).attr("font-family",FONT)
    .attr("font-size",15).attr("fill",colors[i]).text(t);
});
</script>
</body></html>
